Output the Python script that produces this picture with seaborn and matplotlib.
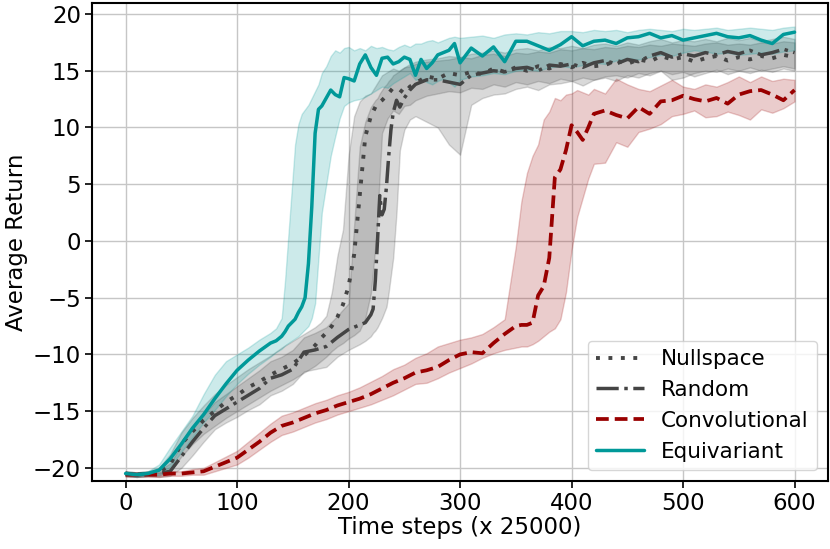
import numpy as np
import pandas as pd
import matplotlib.pyplot as plt
import seaborn as sns

# Equivariant
eq_steps = [0, 10, 20, 30, 40, 50, 60, 70, 80, 90, 100, 110, 120, 130, 135, 140,
            143, 146, 149, 152, 155, 158, 161, 164, 167, 170, 173,
            176, 180, 184, 188, 192, 196, 200,
            205, 210, 215, 220, 225, 230, 235, 240, 245, 250, 255, 260, 265, 270, 275, 280, 285, 290, 295, 300,
            310, 320, 330, 340, 350, 360, 370, 380, 390, 400, 410, 420, 430, 440, 450, 460, 470, 480, 490, 500,
            510, 520, 530, 540, 550, 560, 570, 580, 590, 600]
eq_mean = [-20.5, -20.6, -20.5, -20.2, -19.2, -17.9, -16.5, -15.3, -13.9, -12.6, -11.4, -10.5, -9.7, -9.0, -8.8, -8.4,
           -8.0, -7.5, -7.2, -6.9, -6.3, -5.8, -5.0, -2.0, 3.0, 9.5, 11.6,
           11.9, 12.6, 13.3, 12.9, 12.7, 14.4, 14.3,
           14.1, 15.6, 16.4, 15.3, 14.6, 16.1, 16.2, 15.6, 15.8, 16.2, 16.0, 14.6, 16.0, 15.2, 15.7, 16.4, 16.6, 16.8, 17.4, 15.7,
           17.0, 16.3, 17.1, 15.8, 17.6, 17.6, 17.2, 16.8, 17.3, 18.0, 17.2, 17.6, 17.7, 17.4, 17.9, 18.0, 18.3, 17.9, 18.1, 17.7,
           17.9, 18.1, 18.3, 18.0, 17.9, 18.1, 17.7, 17.4, 18.2, 18.4]
eq_hi = [-20.3, -20.4, -20.3, -19.7, -18.2, -16.8, -15.4, -13.5, -11.8, -10.6, -10.0, -9.4, -8.7, -8.1, -7.7, -6.8,
         -3.5, 0.5, 4.5, 8.5, 10.3, 11.2, 11.6, 12.0, 12.6, 13.2, 13.8,
         14.8, 15.4, 16.3, 16.8, 16.6, 17.0, 17.1,
         16.8, 17.0, 16.8, 17.2, 17.0, 17.1, 16.9, 16.8, 17.1, 17.3, 17.1, 17.4, 17.4, 17.6, 17.7, 17.5, 17.7, 17.9, 18.0, 17.9,
         18.0, 18.1, 17.9, 18.2, 18.3, 18.2, 18.4, 18.3, 18.5, 18.5, 18.4, 18.6, 18.5, 18.6, 18.4, 18.6, 18.7, 18.6, 18.5, 18.7,
         18.6, 18.7, 18.8, 18.6, 18.7, 18.8, 18.7, 18.6, 18.8, 18.9]
eq_lo = [-20.7, -20.8, -20.7, -20.6, -19.9, -18.6, -17.3, -16.0, -14.9, -13.7, -12.6, -11.7, -10.9, -10.2, -9.8, -9.5,
         -9.2, -9.0, -8.8, -8.6, -8.4, -8.1, -7.8, -7.5, -6.8, -5.5, -1.5,
         2.5, 5.0, 7.5, 9.2, 10.8, 11.9, 12.2,
         12.4, 12.5, 12.7, 13.0, 13.3, 13.6, 13.5, 13.9, 14.2, 14.5, 14.8, 14.2, 14.3, 14.0, 13.8, 14.1, 14.3, 14.0, 13.6, 14.2,
         14.5, 14.6, 14.8, 14.7, 15.0, 15.1, 15.0, 15.3, 15.4, 15.3, 15.5, 15.7, 15.6, 15.9, 16.1, 16.0, 16.2, 16.4, 16.3, 16.6,
         16.8, 16.7, 16.5, 16.6, 16.4, 16.5, 16.6, 16.5, 16.7, 16.8]

# Nullspace
null_steps = [0, 10, 20, 30, 40, 50, 60, 70, 80, 90, 100, 110, 120, 130, 140, 150, 160, 170,
              175, 180, 185, 190, 195, 200, 205, 210, 215, 220, 225, 230, 235, 240, 245, 250, 255, 260,
              270, 280, 290, 300, 310, 320, 330, 340, 350, 360, 370, 380, 390, 400, 410, 420, 430, 440,
              450, 460, 470, 480, 490, 500, 510, 520, 530, 540, 550, 560, 570, 580, 590, 600]
null_mean = [-20.5, -20.6, -20.5, -20.4, -19.7, -17.9, -16.8, -15.8, -15.0, -14.2, -13.6, -12.9, -12.4, -11.8, -11.3, -10.8, -10.1, -9.2,
             -8.6, -8.1, -7.5, -6.7, -5.6, -4.0, -1.2, 4.0, 9.2, 11.0, 12.0, 12.4, 12.9, 13.5, 13.4, 13.0, 13.6, 13.9,
             14.5, 14.3, 14.8, 14.6, 14.9, 14.7, 15.2, 14.9, 15.3, 15.0, 15.4, 15.2, 15.6, 15.3, 15.7, 15.4, 15.5, 15.9,
             15.6, 16.0, 15.8, 16.3, 16.0, 16.2, 15.8, 16.1, 16.3, 15.9, 16.2, 16.0, 16.3, 16.1, 16.4, 16.2]
null_hi = [-20.3, -20.4, -20.3, -20.0, -18.8, -16.9, -15.6, -14.5, -13.5, -12.7, -12.0, -11.3, -10.7, -10.1, -9.4, -8.8, -8.2, -7.6,
           -7.2, -6.6, -4.5, -1.3, 1.0, 7.5, 11.0, 12.3, 12.8, 13.0, 13.8, 14.6, 14.9, 15.2, 15.0, 15.3, 15.4, 15.6,
           15.8, 15.9, 16.0, 16.2, 16.1, 16.4, 16.5, 16.3, 16.6, 16.5, 16.7, 16.6, 16.9, 16.8, 17.0, 16.9, 17.1, 17.0,
           17.2, 17.1, 17.3, 17.2, 17.4, 17.3, 17.2, 17.4, 17.5, 17.3, 17.4, 17.3, 17.5, 17.4, 17.6, 17.5]
null_lo = [-20.7, -20.8, -20.7, -20.7, -20.3, -19.0, -17.9, -17.0, -16.3, -15.6, -15.0, -14.4, -13.8, -13.2, -12.7, -12.2, -11.6, -11.0,
           -10.6, -10.2, -9.7, -9.3, -9.0, -8.6, -8.3, -7.9, -6.8, -4.6, 0.5, 9.5, 10.8, 11.5, 11.2, 11.9, 12.0, 12.4,
           12.8, 13.0, 13.2, 13.1, 13.5, 13.4, 13.8, 13.6, 14.0, 13.8, 14.1, 13.9, 14.3, 14.1, 14.4, 14.2, 14.5, 14.6,
           14.4, 14.8, 14.6, 15.0, 14.7, 14.9, 14.5, 14.8, 15.1, 14.7, 15.0, 14.8, 15.1, 14.9, 15.2, 15.0]

# Random
rand_steps = [0, 10, 20, 30, 40, 50, 60, 70, 80, 90, 100, 110, 120, 130, 140, 150, 160, 170, 180, 190, 200, 210,
              215, 220, 222, 224, 226, 228, 230, 232, 234, 236, 238, 240, 243, 246, 250, 255, 260,
              270, 280, 290, 300, 310, 320, 330, 340, 350, 360, 370, 380, 390, 400, 410, 420, 430, 440,
              450, 460, 470, 480, 490, 500, 510, 520, 530, 540, 550, 560, 570, 580, 590, 600]
rand_mean = [-20.5, -20.6, -20.5, -20.5, -20.3, -19.0, -17.7, -16.5, -15.4, -14.8, -14.2, -13.6, -13.0, -12.1, -11.8, -11.3, -9.8, -9.6, -9.3, -8.5, -7.8, -7.4,
             -7.2, -6.5, -6.0, -3.5, 0.1, 4.0, 2.3, 2.8, 4.8, 7.5, 9.8, 11.3, 12.4, 11.8, 12.6, 13.3, 13.8,
             14.2, 14.2, 14.0, 13.8, 14.6, 14.8, 15.0, 14.9, 15.2, 15.3, 15.0, 15.5, 15.4, 15.6, 15.3, 15.7, 15.9, 15.6,
             16.0, 15.8, 16.3, 16.6, 16.2, 16.5, 16.3, 16.6, 16.4, 16.7, 16.5, 16.8, 16.4, 16.6, 16.9, 16.6]
rand_hi = [-20.3, -20.4, -20.3, -20.2, -19.6, -18.0, -16.6, -15.3, -14.2, -13.5, -12.8, -12.1, -11.4, -10.6, -10.2, -9.6, -8.5, -8.1, -7.6, -6.6, -5.5, 8.3,
           10.5, 11.8, 12.1, 12.4, 12.6, 13.0, 13.3, 13.6, 13.8, 14.1, 14.3, 14.6, 14.8, 15.0, 15.3, 15.6, 15.8,
           16.0, 16.1, 16.3, 16.2, 16.5, 16.6, 16.8, 16.6, 16.9, 17.0, 16.8, 17.1, 17.0, 17.2, 17.0, 17.3, 17.4, 17.2,
           17.5, 17.3, 17.6, 17.8, 17.5, 17.7, 17.6, 17.8, 17.6, 17.9, 17.7, 17.9, 17.6, 17.8, 18.0, 17.8]
rand_lo = [-20.7, -20.8, -20.7, -20.8, -20.7, -20.0, -18.9, -17.7, -16.6, -16.0, -15.5, -14.9, -14.4, -13.6, -13.2, -12.6, -11.5, -11.3, -11.1, -10.2, -9.6, -9.1,
           -8.8, -8.4, -8.1, -7.9, -7.6, -7.2, -6.8, -6.3, -5.8, -4.5, -3.0, -1.5, 2.5, 8.0, 9.8, 10.7, 11.0,
           10.5, 10.0, 8.5, 7.6, 12.0, 12.6, 12.9, 13.0, 13.4, 13.6, 13.3, 13.8, 13.9, 14.1, 13.7, 14.2, 14.4, 14.1,
           14.6, 14.4, 14.8, 15.0, 14.2, 14.4, 14.8, 15.0, 14.9, 15.2, 15.0, 15.3, 15.0, 15.2, 15.4, 15.2]

# Convolutional
conv_steps = [0, 10, 20, 30, 40, 50, 60, 70, 80, 90, 100, 110, 120, 130, 140, 150, 160, 170, 180, 190,
              200, 210, 220, 230, 240, 250, 260, 270, 280, 290, 300, 310, 320, 330, 340, 350,
              355, 360, 365, 370, 375, 380, 385, 390, 395, 400, 405, 410, 415, 420,
              430, 440, 450, 460, 470, 480, 490, 500, 510, 520, 530, 540, 550, 560, 570, 580, 590, 600]
conv_mean = [-20.6, -20.6, -20.6, -20.6, -20.5, -20.5, -20.4, -20.3, -19.9, -19.5, -19.1, -18.4, -17.7, -16.9, -16.3, -16.0, -15.6, -15.2, -14.9, -14.5,
             -14.2, -13.9, -13.5, -13.0, -12.5, -12.1, -11.6, -11.4, -11.1, -10.5, -10.0, -9.8, -9.9, -9.0, -8.2, -7.5,
             -7.4, -7.4, -7.2, -4.8, -4.0, -1.5, 5.6, 6.3, 8.0, 10.2, 9.6, 8.9, 10.0, 11.2,
             11.5, 11.1, 10.8, 11.8, 11.2, 12.3, 12.4, 12.8, 12.5, 12.3, 12.6, 12.1, 12.9, 13.2, 13.3, 12.9, 12.4, 13.3]
conv_hi = [-20.4, -20.4, -20.4, -20.4, -20.3, -20.3, -20.1, -20.0, -19.5, -19.0, -18.5, -17.7, -16.9, -16.1, -15.4, -15.1, -14.7, -14.3, -14.0, -13.6,
           -13.3, -12.9, -12.4, -11.9, -11.3, -10.9, -10.3, -9.9, -9.3, -9.0, -8.7, -8.5, -8.2, -7.6, -6.9, -0.5,
           3.5, 6.0, 7.5, 8.5, 10.7, 11.4, 12.6, 12.4, 12.9, 13.0, 13.3, 13.1, 12.9, 13.4,
           13.0, 14.3, 13.8, 13.4, 13.2, 13.7, 14.2, 13.6, 13.4, 13.8, 13.6, 14.0, 14.5, 14.0, 14.5, 14.1, 14.3, 14.2]
conv_lo = [-20.8, -20.8, -20.8, -20.8, -20.7, -20.7, -20.6, -20.6, -20.3, -20.0, -19.7, -19.1, -18.4, -17.7, -17.1, -16.8, -16.4, -16.0, -15.7, -15.3,
           -15.0, -14.7, -14.4, -14.0, -13.6, -13.1, -12.6, -12.5, -12.1, -11.6, -11.2, -10.8, -10.3, -9.9, -9.6, -9.4,
           -9.3, -9.3, -9.1, -8.8, -8.4, -8.0, -7.7, -6.9, -4.5, -0.8, 2.1, 3.8, 5.5, 6.8,
           6.9, 8.7, 8.3, 9.6, 9.9, 10.3, 11.0, 11.2, 11.5, 10.9, 11.0, 11.4, 11.1, 10.7, 11.6, 11.3, 11.7, 12.3]

sns.set_theme(style='whitegrid', rc={
    'axes.edgecolor': 'black',
    'axes.linewidth': 1.5,
    'grid.color': '#c6c6c6',
    'grid.linewidth': 1.0,
    'xtick.bottom': True,
    'ytick.left': True,
    'xtick.direction': 'out',
    'ytick.direction': 'out',
    'xtick.major.size': 5,
    'ytick.major.size': 5,
    'xtick.major.width': 1.2,
    'ytick.major.width': 1.2,
    'xtick.color': 'black',
    'ytick.color': 'black',
    'text.color': 'black',
    'axes.labelcolor': 'black',
})
plt.rcParams['font.family'] = ['DejaVu Sans']

series = [
    ('Nullspace', null_steps, null_mean, null_lo, null_hi, '#444444', (0, (1, 2.2)), 2.8),
    ('Random', rand_steps, rand_mean, rand_lo, rand_hi, '#444444', '-.', 2.5),
    ('Convolutional', conv_steps, conv_mean, conv_lo, conv_hi, '#990000', (0, (3.4, 1.6)), 2.7),
    ('Equivariant', eq_steps, eq_mean, eq_lo, eq_hi, '#009999', '-', 2.5),
]

fig, ax = plt.subplots(figsize=(8.3, 5.49), dpi=100)
fig.subplots_adjust(left=0.111, right=0.9976, top=0.9945, bottom=0.124)

for name, steps, mean, lo, hi, c, ls, lw in series:
    ax.fill_between(steps, lo, hi, color=c, alpha=0.2)

for name, steps, mean, lo, hi, c, ls, lw in series:
    df = pd.DataFrame({'step': steps, 'ret': mean})
    sns.lineplot(data=df, x='step', y='ret', ax=ax, color=c, linestyle=ls,
                 linewidth=lw, label=name)

ax.set_xlim(-30, 630)
ax.set_ylim(-21.15, 20.97)
ax.set_xticks([0, 100, 200, 300, 400, 500, 600])
ax.set_yticks([-20, -15, -10, -5, 0, 5, 10, 15, 20])
ax.tick_params(labelsize=16.5, pad=3)
ax.set_xlabel('Time steps (x 25000)', fontsize=16.5, labelpad=1)
ax.set_ylabel('Average Return', fontsize=16.5, labelpad=3)

leg = ax.legend(loc='lower right', fontsize=15.5, handlelength=2.2,
                framealpha=0.8, edgecolor='#cccccc', fancybox=True)

fig.savefig('out.png', dpi=100)
